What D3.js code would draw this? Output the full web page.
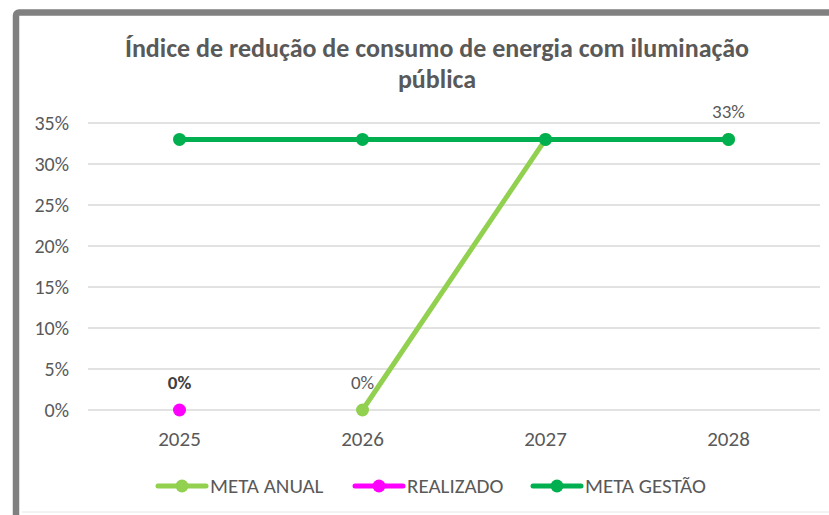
<!DOCTYPE html>
<html>
<head>
<meta charset="utf-8">
<script src="https://cdn.jsdelivr.net/npm/d3@7"></script>
<style>
  body { margin: 0; background: #fff; }
  svg text { font-family: Carlito, Calibri, Lato, "Noto Sans", sans-serif; }
</style>
</head>
<body>
<svg id="chart"></svg>
<script>
const WIDTH = 829;
const HEIGHT = 515;
const MARGIN = { left: 88, right: 9, top: 123, bottom: 105 };

// data
const years = ["2025", "2026", "2027", "2028"];
const metaAnual = [null, 0, 0.33, 0.33];
const realizado = [0, null, null, null];
const metaGestao = [0.33, 0.33, 0.33, 0.33];
const yTicks = [0, 0.05, 0.10, 0.15, 0.20, 0.25, 0.30, 0.35];

const series = [
    { name: "META ANUAL", values: metaAnual, color: "#92D050", labels: [1, 3], bold: false },
    { name: "REALIZADO", values: realizado, color: "#FF00FF", labels: [0], bold: true },
    { name: "META GESTÃO", values: metaGestao, color: "#00B050", labels: [], bold: false }
];

const svg = d3.select("#chart")
    .attr("width", WIDTH)
    .attr("height", HEIGHT);

// outer frame
svg.append("rect")
    .attr("x", 16).attr("y", 12.5)
    .attr("width", 830).attr("height", 520)
    .attr("rx", 3)
    .attr("fill", "#fff")
    .attr("stroke", "#808080")
    .attr("stroke-width", 6.5);

svg.append("line")
    .attr("x1", 22).attr("x2", WIDTH)
    .attr("y1", 512).attr("y2", 512)
    .attr("stroke", "#e6e6e6");

// title
const title = svg.append("text")
    .attr("text-anchor", "middle")
    .attr("fill", "#595959")
    .attr("font-weight", "bold")
    .attr("font-size", 26);
title.append("tspan").attr("x", 437).attr("y", 57).text("Índice de redução de consumo de energia com iluminação");
title.append("tspan").attr("x", 437).attr("y", 88).text("pública");

const x = d3.scaleBand()
    .domain(years)
    .range([MARGIN.left, WIDTH - MARGIN.right]);

const y = d3.scaleLinear()
    .domain([0, 0.35])
    .range([HEIGHT - MARGIN.bottom, MARGIN.top]);

// grid
svg.append("g")
    .selectAll("line")
    .data(yTicks)
    .enter()
    .append("line")
    .attr("x1", MARGIN.left)
    .attr("x2", WIDTH - MARGIN.right)
    .attr("y1", d => y(d))
    .attr("y2", d => y(d))
    .attr("stroke", "#d9d9d9")
    .attr("stroke-width", 1.5);

// y axis
const yAxis = svg.append("g")
    .attr("transform", `translate(${MARGIN.left - 19},0)`)
    .call(d3.axisLeft(y).tickValues(yTicks).tickFormat(d3.format(".0%")).tickSize(0).tickPadding(0));
yAxis.select(".domain").remove();
yAxis.selectAll("text")
    .attr("fill", "#595959")
    .attr("font-size", 20)
    .attr("font-family", null);

// x axis
const xAxis = svg.append("g")
    .attr("transform", `translate(0,${HEIGHT - MARGIN.bottom + 15})`)
    .call(d3.axisBottom(x).tickSize(0).tickPadding(6));
xAxis.select(".domain").remove();
xAxis.selectAll("text")
    .attr("fill", "#595959")
    .attr("font-size", 21)
    .attr("font-family", null);

const cx = i => x(years[i]) + x.bandwidth() / 2;

const line = d3.line()
    .defined(d => d != null)
    .x((d, i) => cx(i))
    .y(d => y(d));

series.forEach(s => {
    const g = svg.append("g");
    g.append("path")
        .datum(s.values)
        .attr("d", line)
        .attr("fill", "none")
        .attr("stroke", s.color)
        .attr("stroke-width", 5)
        .attr("stroke-linejoin", "round");

    g.selectAll("circle")
        .data(s.values.map((v, i) => ({ v, i })).filter(d => d.v != null))
        .enter()
        .append("circle")
        .attr("cx", d => cx(d.i))
        .attr("cy", d => y(d.v))
        .attr("r", 6.5)
        .attr("fill", s.color);
});

// data labels, drawn last
series.forEach(s => {
    svg.append("g")
        .selectAll("text")
        .data(s.labels)
        .enter()
        .append("text")
        .attr("x", i => cx(i))
        .attr("y", i => y(s.values[i]) - 21)
        .attr("text-anchor", "middle")
        .attr("fill", s.bold ? "#404040" : "#595959")
        .attr("font-weight", s.bold ? "bold" : "normal")
        .attr("font-size", 19)
        .text(i => d3.format(".0%")(s.values[i]));
});

// legend
const legendX = [158, 355, 533];
const legend = svg.append("g")
    .attr("transform", "translate(0,486)");

series.forEach((s, k) => {
    const item = legend.append("g")
        .attr("transform", `translate(${legendX[k]},0)`);
    item.append("line")
        .attr("x1", 0).attr("x2", 48)
        .attr("stroke", s.color)
        .attr("stroke-width", 5)
        .attr("stroke-linecap", "round");
    item.append("circle")
        .attr("cx", 24).attr("r", 6.5)
        .attr("fill", s.color);
    item.append("text")
        .attr("x", 52)
        .attr("dy", "0.35em")
        .attr("fill", "#595959")
        .attr("font-size", 21)
        .text(s.name);
});
</script>
</body>
</html>
